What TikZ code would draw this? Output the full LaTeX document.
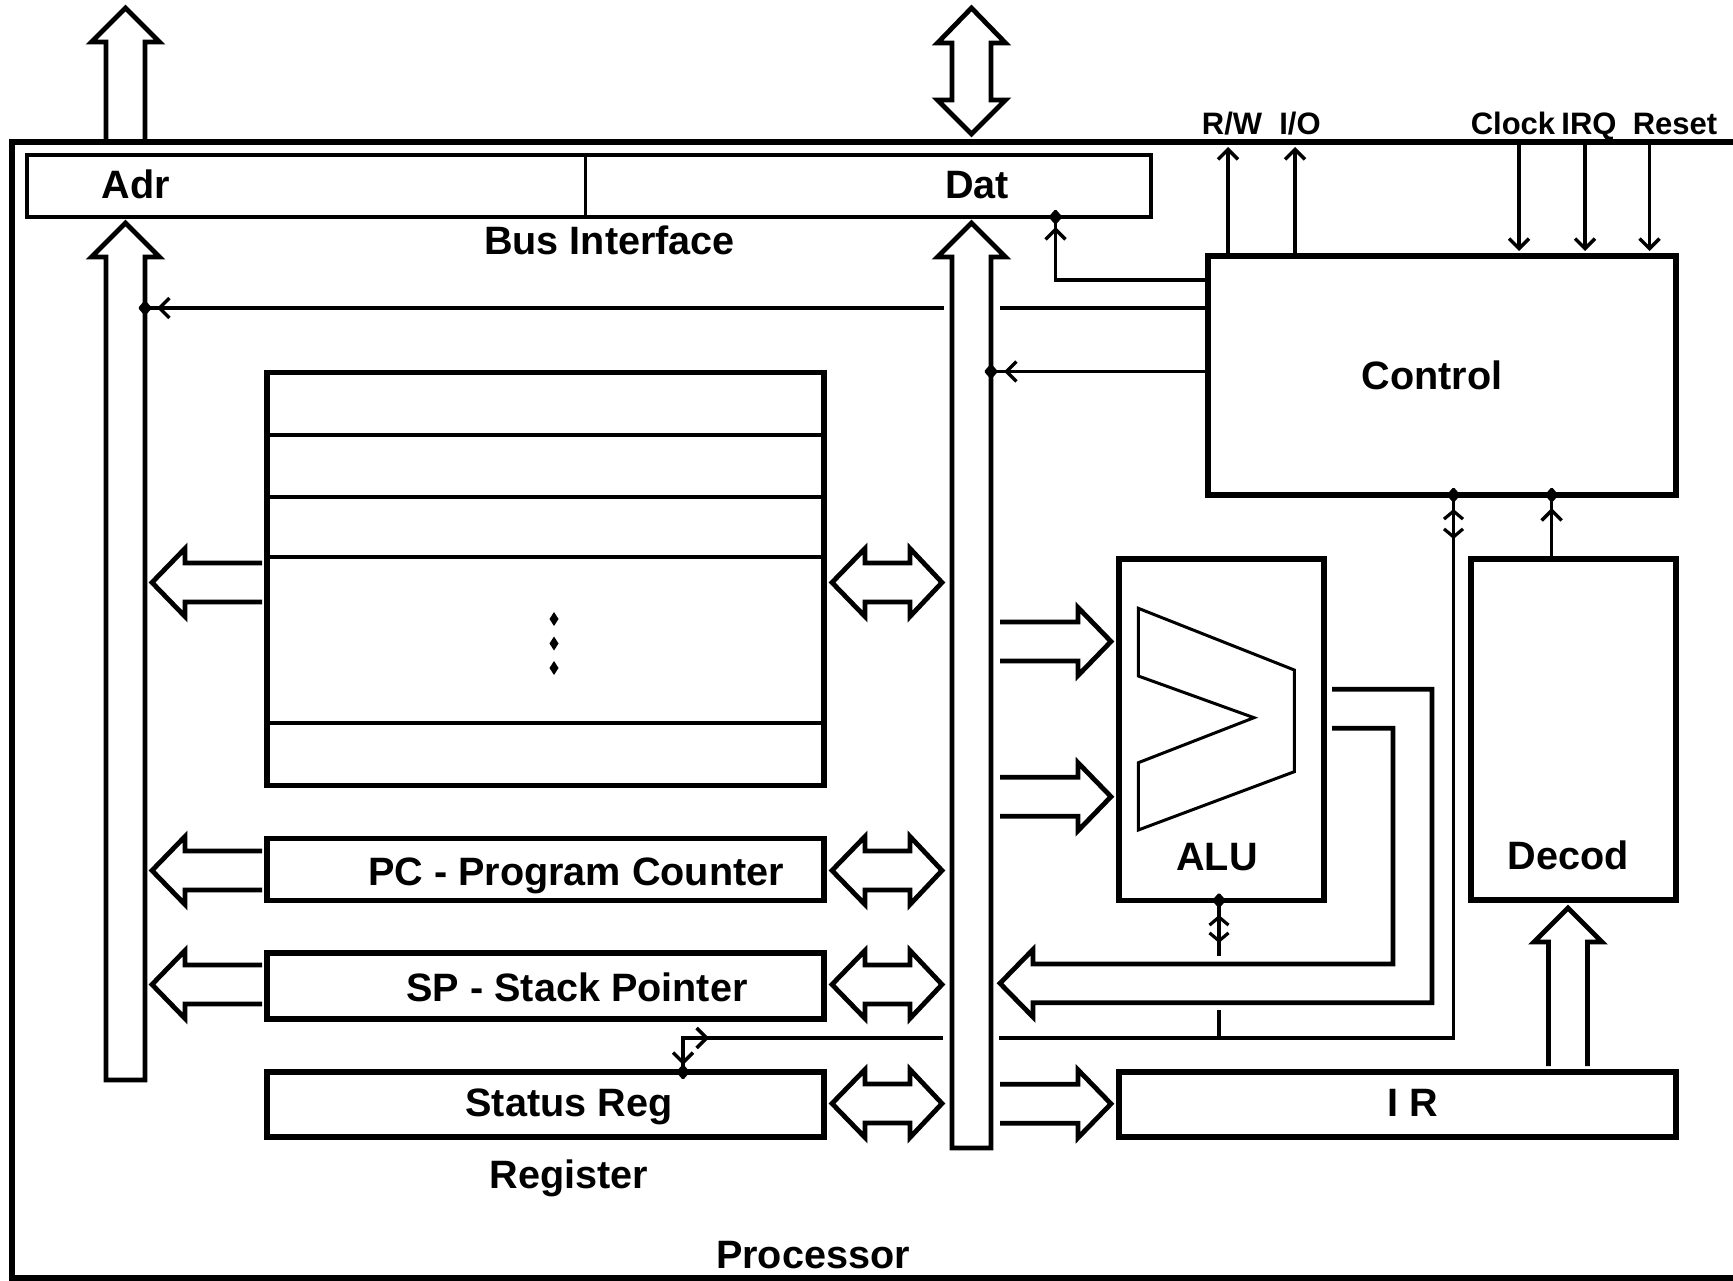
\documentclass[tikz,border=0pt]{standalone}
\usepackage{fontspec}
\setmainfont{Liberation Sans}
\usetikzlibrary{arrows.meta}
\begin{document}
\begin{tikzpicture}[x=1pt,y=-1pt,
  box/.style={draw,line width=5.5pt,fill=white,inner sep=0pt,outer sep=0pt},
  fat/.style={draw,line width=4.8pt,fill=white,line join=miter,miter limit=20},
  sig/.style={line width=3.5pt},
  sigtip/.style={line width=3.5pt,-{Straight Barb[length=10pt,width=20pt]}},
  smalltip/.style={line width=3.2pt,-{Straight Barb[length=8pt,width=19pt]}},
  lbl/.style={font=\fontsize{39.6pt}{44pt}\selectfont\bfseries,inner sep=0pt,anchor=base},
  slbl/.style={font=\fontsize{31pt}{34pt}\selectfont\bfseries,inner sep=0pt,anchor=base},
  jdot/.pic={\fill[rounded corners=1.5pt] (0,-8) -- (7,0) -- (0,8) -- (-7,0) -- cycle;},
  sdot/.pic={\fill (0,-7) -- (4.5,0) -- (0,7) -- (-4.5,0) -- cycle;}
]
\useasboundingbox (0,0) rectangle (1733,1281);
\clip (0,0) rectangle (1733,1281);
\fill[white] (0,0) rectangle (1733,1281);

% external buses (drawn before the frame so the frame line stays whole)
\draw[fat] (106,142) -- (106,42) -- (91.5,42) -- (125.5,8) -- (159.5,42) -- (145,42) -- (145,142);
\draw[fat] (952,100) -- (952,43) -- (937.5,43) -- (971.5,8) -- (1005.5,43) -- (991,43) -- (991,100) -- (1005.5,100) -- (971.5,134) -- (937.5,100) -- cycle;

% processor frame
\draw[line width=5.5pt] (1800,142) -- (12,142) -- (12,1278) -- (1800,1278);

% boxes
\node[box,line width=3.5pt,minimum width=1124pt,minimum height=62pt] (busif) at (589,186) {};
\draw[line width=3.5pt] (busif.north -| 585.5,0) -- (busif.south -| 585.5,0);
\node[box,line width=6pt,minimum width=468pt,minimum height=239pt] (ctrl) at (1442,375.5) {};
\node[box,minimum width=557pt,minimum height=413pt] (regfile) at (545.5,579) {};
\foreach \yy in {435,497,557,723}{
  \draw[line width=4pt] (regfile.west |- 0,\yy) -- (regfile.east |- 0,\yy);
}
\pic at (554,619) {sdot};
\pic at (554,643.5) {sdot};
\pic at (554,668) {sdot};
\node[box,minimum width=557pt,minimum height=62pt] (pc) at (545.5,869.5) {};
\node[box,minimum width=557pt,minimum height=66pt] (sp) at (545.5,986) {};
\node[box,minimum width=557pt,minimum height=65pt] (status) at (545.5,1104.5) {};
\node[box,minimum width=205pt,minimum height=341.5pt] (alu) at (1221.5,729.75) {};
\node[box,minimum width=205pt,minimum height=341pt] (decod) at (1573.5,729.5) {};
\node[box,minimum width=557pt,minimum height=65pt] (ir) at (1397.5,1104.5) {};

% ALU symbol
\draw[line width=3pt,line join=miter] (1138.3,608.3) -- (1294.3,670) -- (1294.3,771.7) -- (1138.3,830) -- (1138.3,762.7) -- (1254,717.7) -- (1138.3,676) -- cycle;

% signal lines behind the data bus
\draw[sig] (ctrl.west |- 0,308) -- (1000,308);
\draw[sig] (944,308) -- (145,308);
\draw[sig] (ctrl.south -| 1453.5,0) -- (1453.5,1038) -- (999,1038);
\draw[sig] (943,1038) -- (683,1038) -- (status.north -| 683,0);
\draw[sig] (alu.south -| 1219,0) -- (1219,956);
\draw[sig] (1219,1010) -- (1219,1038);

% internal buses
\draw[fat] (106,1080) -- (106,257) -- (91.5,257) -- (125.5,223) -- (159.5,257) -- (145,257) -- (145,1080) -- cycle;
\draw[fat] (952,1148) -- (952,257) -- (937.5,257) -- (971.5,223) -- (1005.5,257) -- (991,257) -- (991,1148) -- cycle;

% register -> address bus
\foreach \c in {582.5,870.5,984.5}{
  \draw[fat] (262,{\c-19.5}) -- (185,{\c-19.5}) -- (185,{\c-34}) -- (152,\c) -- (185,{\c+34}) -- (185,{\c+19.5}) -- (262,{\c+19.5});
}
% register <-> data bus
\foreach \c in {582.5,870.5,984.5,1103.5}{
  \draw[fat] (865,{\c-19.5}) -- (910,{\c-19.5}) -- (910,{\c-34}) -- (942,\c) -- (910,{\c+34}) -- (910,{\c+19.5}) -- (865,{\c+19.5}) -- (865,{\c+34}) -- (832,\c) -- (865,{\c-34}) -- cycle;
}
% data bus -> ALU, IR
\foreach \c in {641.5,796.7,1103.8}{
  \draw[fat] (1000,{\c-19.5}) -- (1078,{\c-19.5}) -- (1078,{\c-34}) -- (1111,\c) -- (1078,{\c+34}) -- (1078,{\c+19.5}) -- (1000,{\c+19.5});
}
% ALU -> data bus
\draw[fat] (1332,689.3) -- (1432,689.3) -- (1432,1002.7) -- (1033,1002.7) -- (1033,1017) -- (1000,983.3) -- (1033,949.5) -- (1033,964) -- (1393,964) -- (1393,728.3) -- (1332,728.3);
% IR -> Decod
\draw[fat] (1548.5,1066) -- (1548.5,942) -- (1534,942) -- (1568,908) -- (1602,942) -- (1587.5,942) -- (1587.5,1066);

% other signal lines
\draw[sig] (ctrl.west |- 0,280) -- (1055.5,280) -- (busif.south -| 1055.5,0);
\draw[sigtip] (1055.5,245) -- (1055.5,227);
\pic at (busif.south -| 1055.5,0) {jdot};

\draw[sigtip] (175,308) -- (157,308);
\pic at (145,308) {jdot};

\draw[sig] (ctrl.west |- 0,371.5) -- (991,371.5);
\draw[sigtip] (1020,371.5) -- (1004,371.5);
\pic at (991,371.5) {jdot};

\draw[sigtip] (ctrl.north -| 1228,0) -- (1228,147);
\draw[sigtip] (ctrl.north -| 1295,0) -- (1295,147);
\draw[sigtip] (1519,144) -- (1519,251);
\draw[sigtip] (1585,144) -- (1585,251);
\draw[sigtip] (1649.5,144) -- (1649.5,251);

\draw[sig] (decod.north -| 1551.7,0) -- (ctrl.south -| 1551.7,0);
\draw[sigtip] (1551.7,525) -- (1551.7,508);
\pic at (ctrl.south -| 1551.7,0) {jdot};

\pic at (ctrl.south -| 1453.5,0) {jdot};
\draw[smalltip] (1453.5,522) -- (1453.5,509);
\draw[smalltip] (1453.5,524) -- (1453.5,539);
\pic at (status.north -| 683,0) {jdot};
\draw[sigtip] (683,1048) -- (683,1065);
\draw[sigtip] (690,1038) -- (709,1038);

\pic at (alu.south -| 1219,0) {jdot};
\draw[smalltip] (1219,929) -- (1219,915);
\draw[smalltip] (1219,928) -- (1219,943);

% labels
\node[lbl] (tAdr) at (136,199) {Adr};
\node[lbl] (tDat) at (977,199) {Dat};
\node[lbl] (tBus) at (609.5,255) {Bus Interface};
\node[lbl] (tCtrl) at (1432,389) {Control};
\node[lbl] (tPC) at (576,885) {PC - Program Counter};
\node[lbl] (tSP) at (577,1001.5) {SP - Stack Pointer};
\node[lbl] (tStat) at (569,1116.5) {Status Reg};
\node[lbl] (tReg) at (569,1188) {Register};
\node[lbl] (tProc) at (813,1268) {Processor};
\node[lbl] (tALU) at (1217,870) {ALU};
\node[lbl] (tDec) at (1568,869.5) {Decod};
\node[lbl] (tIR) at (1413,1116.5) {I R};
\node[slbl] (tRW) at (1232,135) {R/W};
\node[slbl] (tIO) at (1300,135) {I/O};
\node[slbl] (tClk) at (1513,135) {Clock};
\node[slbl] (tIRQ) at (1589,135) {IRQ};
\node[slbl] (tRst) at (1675,135) {Reset};
\end{tikzpicture}
\end{document}
